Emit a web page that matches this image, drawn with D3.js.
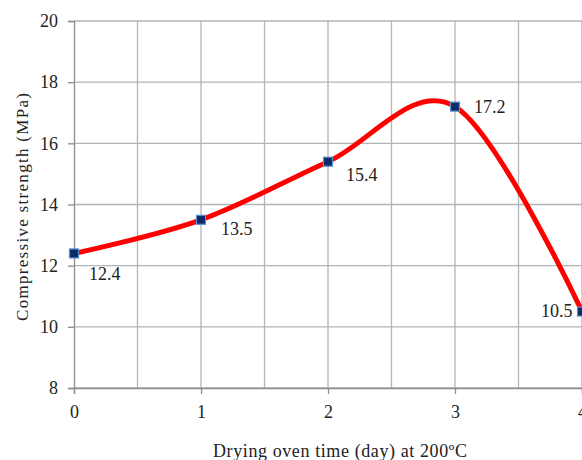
<!DOCTYPE html>
<html><head><meta charset="utf-8">
<script src="https://cdn.jsdelivr.net/npm/d3@7"></script>
<style>body{margin:0;background:#fff}svg{display:block}text{font-family:"Liberation Serif","Times New Roman",serif;fill:#222}</style>
</head><body><svg id="c" width="582" height="460"></svg>
<script>
const days = [0, 1, 2, 3, 4];
const strength = [12.4, 13.5, 15.4, 17.2, 10.5];
const labels = ["12.4", "13.5", "15.4", "17.2", "10.5"];
const yTicks = [8, 10, 12, 14, 16, 18, 20];
const xTicks = [0, 1, 2, 3, 4];
const xGrid = [0.5, 1, 1.5, 2, 2.5, 3, 3.5, 4];

const svg = d3.select("#c");
const L = 74, R = 582, T = 21, B = 388;
const x = d3.scaleLinear().domain([0, 4]).range([L, R]);
const y = d3.scaleLinear().domain([8, 20]).range([B, T]);

const grid = svg.append("g").attr("stroke", "#b4b4b4").attr("stroke-width", 1.3);
grid.selectAll(".h").data(yTicks).join("line")
  .attr("x1", L).attr("x2", R).attr("y1", d => y(d)).attr("y2", d => y(d));
grid.selectAll(".v").data(xGrid).join("line")
  .attr("x1", d => x(d)).attr("x2", d => x(d)).attr("y1", T).attr("y2", B);

const yAxis = svg.append("g").attr("transform", `translate(${L},0)`)
  .call(d3.axisLeft(y).tickValues(yTicks).tickSize(6).tickPadding(10).tickFormat(d3.format("d")));
const xAxis = svg.append("g").attr("transform", `translate(0,${B})`)
  .call(d3.axisBottom(x).tickValues(xTicks).tickSize(6).tickPadding(11).tickFormat(d3.format("d")));
[yAxis, xAxis].forEach(a => {
  a.selectAll("path,line").attr("stroke", "#8c8c8c").attr("stroke-width", 1.3);
  a.selectAll("text").attr("font-size", 18).attr("fill", "#222")
    .attr("font-family", "Liberation Serif, serif");
});

const pts = days.map((d, i) => [x(d), y(strength[i])]);
svg.append("path").datum(pts)
  .attr("d", d3.line().curve(d3.curveCardinal.tension(0)))
  .attr("fill", "none").attr("stroke", "#ff0000").attr("stroke-width", 5)
  .attr("stroke-linecap", "round");

svg.selectAll(".m").data(pts).join("rect")
  .attr("x", d => d[0] - 4.5).attr("y", d => d[1] - 4.5)
  .attr("width", 9).attr("height", 9)
  .attr("fill", "#0c2a66").attr("stroke", "#5b8fd0").attr("stroke-width", 1.2);

const off = [[15, 26.5], [20, 15], [18, 19], [19, 6], [-41, 5]];
svg.selectAll(".lab").data(pts).join("text")
  .attr("x", (d, i) => d[0] + off[i][0]).attr("y", (d, i) => d[1] + off[i][1])
  .attr("font-size", 18).text((d, i) => labels[i]);

svg.append("text").attr("transform", "translate(28,207) rotate(-90)")
  .attr("text-anchor", "middle").attr("font-size", 17)
  .attr("textLength", 228).attr("lengthAdjust", "spacing")
  .text("Compressive  strength (MPa)");
svg.append("text").attr("x", 340).attr("y", 457)
  .attr("text-anchor", "middle").attr("font-size", 18)
  .attr("textLength", 254).attr("lengthAdjust", "spacing")
  .text("Drying oven time (day) at 200ºC");
</script></body></html>
